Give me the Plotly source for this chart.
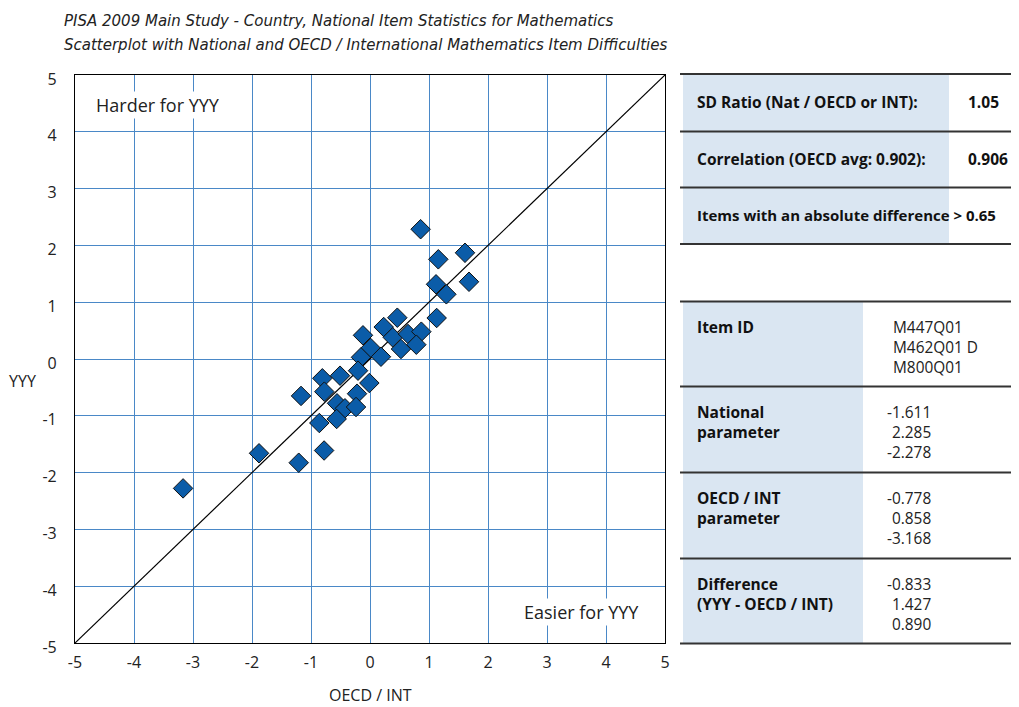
import plotly.graph_objects as go

# ---------------- data ----------------
oecd_int = [0.858, 1.158, 1.61, 1.678, 1.119, 1.294, 1.13, 0.463, 0.232, 0.385,
            0.644, 0.87, 0.785, 0.525, -0.119, 0.011, 0.186, -0.153, -0.203, -0.011,
            -0.808, -0.508, -0.774, -0.22, -1.169, -0.559, -0.424, -0.237, -0.565,
            -0.859, -1.881, -0.778, -1.208, -3.168]
national = [2.285, 1.755, 1.87, 1.36, 1.315, 1.139, 0.722, 0.727, 0.563, 0.382,
            0.44, 0.481, 0.252, 0.176, 0.417, 0.194, 0.04, 0.03, -0.206, -0.423,
            -0.34, -0.294, -0.575, -0.611, -0.65, -0.78, -0.868, -0.845, -1.056,
            -1.127, -1.66, -1.611, -1.826, -2.278]

axis_range = [-5, 5]
tick_vals = [-5, -4, -3, -2, -1, 0, 1, 2, 3, 4, 5]
tick_text = ["-5", "-4", "-3", "-2", "-1", "0", "1", "2", "3", "4", "5"]

title_lines = ["PISA 2009 Main Study - Country, National Item Statistics for Mathematics",
               "Scatterplot with National and OECD / International Mathematics Item Difficulties"]

summary_labels = ["SD Ratio (Nat / OECD or INT):", "Correlation (OECD avg: 0.902):",
                  "Items with an absolute difference"]
summary_values = ["1.05", "0.906", "> 0.65"]

item_ids = ["M447Q01", "M462Q01 D", "M800Q01"]
national_param = ["-1.611", "2.285", "-2.278"]
oecd_param = ["-0.778", "0.858", "-3.168"]
difference = ["-0.833", "1.427", "0.890"]
detail_labels = ["Item ID", "National<br>parameter", "OECD / INT<br>parameter",
                 "Difference<br>(YYY - OECD / INT)"]

# ---------------- layout helpers ----------------
OFF = 8  # page body margin
W, H = 1019 - OFF, 707 - OFF
L, R, T, B = 75, 665, 75, 643  # plot area in reference pixels
FONT = "Open Sans"
TITLE_FONT = "DejaVu Sans"
BLUE_FILL = "#dae6f2"


def px(x):
    return (x - L) / (R - L)


def py(y):
    return (B - y) / (B - T)


fig = go.Figure()

# diagonal reference line
fig.add_trace(go.Scatter(x=axis_range, y=axis_range, mode="lines",
                         line=dict(color="black", width=1.2),
                         hoverinfo="skip", showlegend=False))

fig.add_trace(go.Scatter(x=oecd_int, y=national, mode="markers",
                         marker=dict(symbol="diamond", size=15, color="#0b5ca8",
                                     line=dict(color="#111111", width=1)),
                         showlegend=False))

shapes = []
annotations = []

# titles
for i, t in enumerate(title_lines):
    annotations.append(dict(xref="paper", yref="paper", x=px(62), y=py(21 + 24 * i),
                            text="<i>" + t + "</i>", showarrow=False,
                            xanchor="left", yanchor="middle",
                            font=dict(family=TITLE_FONT, size=15, color="#222")))

# in-plot labels
annotations.append(dict(xref="paper", yref="paper", x=px(94), y=py(105),
                        text="Harder for YYY", showarrow=False, xanchor="left",
                        yanchor="middle", bgcolor="white", borderpad=1,
                        font=dict(family=FONT, size=18, color="#222")))
annotations.append(dict(xref="paper", yref="paper", x=px(641), y=py(612),
                        text="Easier for YYY", showarrow=False, xanchor="right",
                        yanchor="middle", bgcolor="white", borderpad=1,
                        font=dict(family=FONT, size=18, color="#222")))

# axis titles
annotations.append(dict(xref="paper", yref="paper", x=px(370), y=py(695),
                        text="OECD / INT", showarrow=False, xanchor="center",
                        yanchor="middle", font=dict(family=FONT, size=16, color="#222")))
annotations.append(dict(xref="paper", yref="paper", x=px(22), y=py(381),
                        text="YYY", showarrow=False, xanchor="center",
                        yanchor="middle", font=dict(family=FONT, size=16, color="#222")))

# ---------------- summary table ----------------
TX0, TX1 = 680, 1019
top_rows = [74, 131.5, 187.5, 244]
shapes.append(dict(type="rect", xref="paper", yref="paper", x0=px(683), x1=px(949),
                   y0=py(top_rows[0]), y1=py(top_rows[-1]), fillcolor=BLUE_FILL,
                   line=dict(width=0), layer="below"))
for yy in top_rows:
    shapes.append(dict(type="line", xref="paper", yref="paper", x0=px(TX0), x1=px(TX1),
                       y0=py(yy), y1=py(yy), line=dict(color="#333", width=2)))
for i in range(3):
    yc = (top_rows[i] + top_rows[i + 1]) / 2 - 1
    if i == 2:
        annotations.append(dict(xref="paper", yref="paper", x=px(695), y=py(yc),
                                text="<b>" + summary_labels[i] + " " + summary_values[i] + "</b>",
                                showarrow=False, xanchor="left", yanchor="middle",
                                font=dict(family=FONT, size=15, color="#111")))
        continue
    annotations.append(dict(xref="paper", yref="paper", x=px(695), y=py(yc),
                            text="<b>" + summary_labels[i] + "</b>", showarrow=False,
                            xanchor="left", yanchor="middle",
                            font=dict(family=FONT, size=15.5, color="#111")))
    annotations.append(dict(xref="paper", yref="paper", x=px(966), y=py(yc),
                            text="<b>" + summary_values[i] + "</b>", showarrow=False,
                            xanchor="left", yanchor="middle",
                            font=dict(family=FONT, size=15.5, color="#111")))

# ---------------- detail table ----------------
bot_rows = [301.5, 386.5, 472.5, 558.5, 643.5]
shapes.append(dict(type="rect", xref="paper", yref="paper", x0=px(683), x1=px(863),
                   y0=py(bot_rows[0]), y1=py(bot_rows[-1]), fillcolor=BLUE_FILL,
                   line=dict(width=0), layer="below"))
for yy in bot_rows:
    shapes.append(dict(type="line", xref="paper", yref="paper", x0=px(TX0), x1=px(TX1),
                       y0=py(yy), y1=py(yy), line=dict(color="#333", width=2)))

columns = [item_ids, national_param, oecd_param, difference]
for i in range(4):
    ytop = bot_rows[i] + 12
    annotations.append(dict(xref="paper", yref="paper", x=px(695), y=py(ytop),
                            text="<b>" + detail_labels[i] + "</b>", showarrow=False,
                            xanchor="left", yanchor="top", align="left",
                            font=dict(family=FONT, size=15.5, color="#111")))
    if i == 0:
        xa, xanc, al = 891, "left", "left"
    else:
        xa, xanc, al = 933, "right", "right"
    annotations.append(dict(xref="paper", yref="paper", x=px(xa),
                            y=py(bot_rows[i] + 13),
                            text="<br>".join(columns[i]), showarrow=False,
                            xanchor=xanc, yanchor="top", align=al,
                            font=dict(family=FONT, size=15.4, color="#222")))

fig.update_layout(
    width=W, height=H,
    margin=dict(l=L - OFF, r=1019 - R, t=T - OFF, b=707 - B),
    paper_bgcolor="white", plot_bgcolor="white",
    shapes=shapes, annotations=annotations,
    showlegend=False,
    font=dict(family=FONT, size=15, color="#222"),
)

fig.update_xaxes(range=axis_range, tickvals=tick_vals, ticktext=tick_text, showgrid=True,
                 gridcolor="#4a88c7", gridwidth=1, zeroline=False,
                 showline=True, linecolor="black", linewidth=1.2, mirror=True,
                 ticks="", ticklabelstandoff=5,
                 tickfont=dict(family=FONT, size=16, color="#222"))
fig.update_yaxes(range=axis_range, tickvals=tick_vals, ticktext=tick_text, showgrid=True,
                 gridcolor="#4a88c7", gridwidth=1, zeroline=False,
                 showline=True, linecolor="black", linewidth=1.2, mirror=True,
                 ticks="", ticklabelstandoff=14, ticklabelshift=4,
                 tickfont=dict(family=FONT, size=16, color="#222"))

fig.write_html("out.html")
